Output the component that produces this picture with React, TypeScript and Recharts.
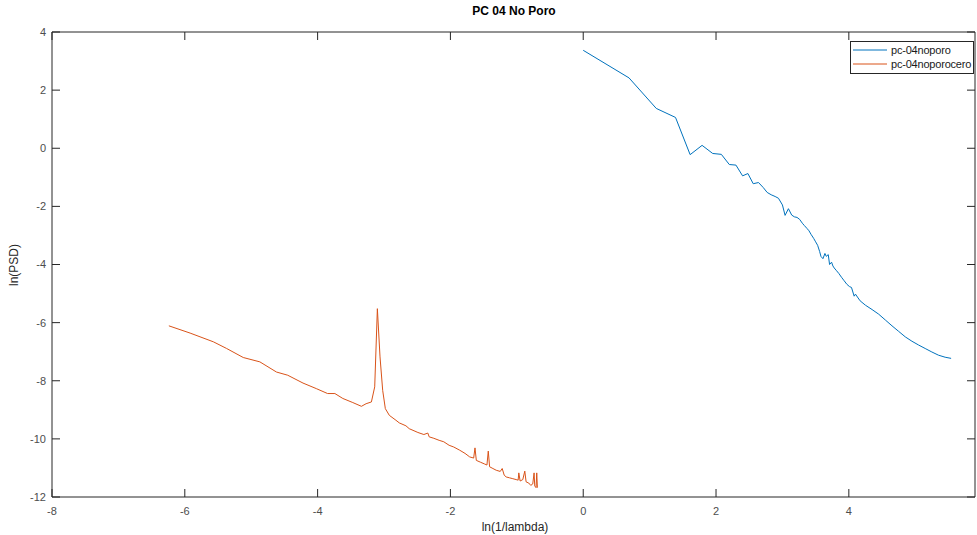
import { Legend, Line, LineChart, XAxis, YAxis } from "recharts";

// blue trace: pc-04noporo
const poroX = [
  0, 0.69, 1.1, 1.39, 1.61, 1.79, 1.95, 2.08, 2.2, 2.3, 2.4, 2.48, 2.56, 2.64,
  2.71, 2.77, 2.83, 2.89, 2.94, 3.0, 3.04, 3.09, 3.14, 3.18, 3.22, 3.26, 3.3,
  3.33, 3.37, 3.4, 3.43, 3.47, 3.5, 3.53, 3.56, 3.58, 3.61, 3.64, 3.66, 3.69,
  3.71, 3.74, 3.76, 3.78, 3.81, 3.85, 3.89, 3.93, 3.97, 4.01, 4.04, 4.08, 4.1,
  4.13, 4.17, 4.25, 4.35, 4.45, 4.55, 4.65, 4.75, 4.85, 4.95, 5.05, 5.15, 5.25,
  5.35, 5.45, 5.54,
];
const poroY = [
  3.37, 2.42, 1.37, 1.06, -0.22, 0.1, -0.18, -0.21, -0.56, -0.58, -0.95, -0.87,
  -1.22, -1.18, -1.35, -1.52, -1.6, -1.66, -1.72, -1.95, -2.31, -2.08, -2.3,
  -2.36, -2.38, -2.45, -2.58, -2.66, -2.76, -2.84, -2.96, -3.1, -3.22, -3.34,
  -3.55, -3.72, -3.8, -3.62, -3.72, -3.66, -4.0, -3.92, -4.05, -4.12, -4.2,
  -4.31, -4.44, -4.56, -4.68, -4.76, -4.79, -5.09, -5.02, -5.12, -5.25, -5.4,
  -5.55, -5.71, -5.91, -6.11, -6.3, -6.49, -6.64, -6.77, -6.89, -7.01, -7.12,
  -7.19, -7.23,
];

// orange trace: pc-04noporocero
const ceroX = [
  -6.24, -5.92, -5.57, -5.37, -5.12, -4.87, -4.62, -4.45, -4.22, -4.02, -3.85,
  -3.74, -3.62, -3.47, -3.34, -3.27, -3.19, -3.14, -3.1, -3.06, -3.02, -2.98,
  -2.92, -2.82, -2.77, -2.67, -2.62, -2.49, -2.4, -2.34, -2.32, -2.25, -2.17,
  -2.1, -2.02, -1.95, -1.86, -1.78, -1.71, -1.65, -1.63, -1.61, -1.55, -1.49,
  -1.45, -1.43, -1.41, -1.36, -1.31, -1.25, -1.22, -1.19, -1.16, -1.11, -1.06,
  -1.01, -0.98, -0.97, -0.95, -0.91, -0.88, -0.86, -0.82, -0.79, -0.76, -0.74,
  -0.73, -0.71, -0.7, -0.69,
];
const ceroY = [
  -6.11, -6.36, -6.66, -6.89, -7.2, -7.35, -7.7, -7.81, -8.08, -8.27, -8.44,
  -8.44, -8.61, -8.75, -8.88, -8.79, -8.73, -8.21, -5.52, -7.18, -8.33, -8.96,
  -9.19, -9.36, -9.45, -9.55, -9.65, -9.78, -9.85, -9.8, -9.93, -9.98, -10.05,
  -10.1, -10.22, -10.28, -10.39, -10.5, -10.62, -10.66, -10.31, -10.74, -10.8,
  -10.86, -10.9, -10.42, -10.96, -11.02, -11.08, -11.12, -11.02, -11.25,
  -11.31, -11.34, -11.37, -11.4, -11.42, -11.17, -11.45, -11.4, -11.11, -11.48,
  -11.52, -11.6, -11.55, -11.17, -11.62, -11.68, -11.17, -11.68,
];

const xTicks = [-8, -6, -4, -2, 0, 2, 4];
const yTicks = [-12, -10, -8, -6, -4, -2, 0, 2, 4];

const poroData = poroX.map((x, i) => ({ x, y: poroY[i] }));
const ceroData = ceroX.map((x, i) => ({ x, y: ceroY[i] }));

const FONT = "'Liberation Sans', Arial, sans-serif";
const AXIS = "#262626";
const BLUE = "#0072BD";
const ORANGE = "#D95319";

const tickStyle = { fill: "#4d4d4d", fontSize: 11, fontFamily: FONT };
const noLabel = () => "";

const LegendBox = () => (
  <div
    style={{
      border: `1px solid ${AXIS}`,
      background: "#fff",
      width: 122,
      height: 29,
      padding: "1px 0",
      fontFamily: FONT,
      fontSize: 11,
      color: "#1a1a1a",
      whiteSpace: "nowrap",
    }}
  >
    {[
      { name: "pc-04noporo", color: BLUE },
      { name: "pc-04noporocero", color: ORANGE },
    ].map((it) => (
      <div key={it.name} style={{ display: "flex", alignItems: "center", height: 14 }}>
        <svg width={40} height={14} style={{ flex: "none" }}>
          <line x1={2} x2={36} y1={7} y2={7} stroke={it.color} strokeWidth={1} />
        </svg>
        <span style={{ letterSpacing: -0.2 }}>{it.name}</span>
      </div>
    ))}
  </div>
);

const App = () => {
  return (
    <div style={{ position: "absolute", left: 0, top: 0, width: 977, height: 535, background: "#fff" }}>
      <LineChart width={977} height={535} margin={{ top: 31, right: 1, bottom: 0, left: 0 }}>
        <XAxis
          xAxisId="b"
          type="number"
          dataKey="x"
          domain={[-8, 5.9]}
          ticks={xTicks}
          allowDataOverflow
          height={38}
          stroke={AXIS}
          tickSize={-8}
          tickMargin={18}
          tick={tickStyle}
        />
        <XAxis
          xAxisId="t"
          orientation="top"
          type="number"
          dataKey="x"
          domain={[-8, 5.9]}
          ticks={xTicks}
          allowDataOverflow
          height={1}
          stroke={AXIS}
          tickSize={-8}
          tickFormatter={noLabel}
        />
        <YAxis
          yAxisId="l"
          type="number"
          domain={[-12, 4]}
          ticks={yTicks}
          allowDataOverflow
          width={52}
          stroke={AXIS}
          tickSize={-8}
          tickMargin={14}
          tick={tickStyle}
        />
        <YAxis
          yAxisId="r"
          orientation="right"
          type="number"
          dataKey="y"
          domain={[-12, 4]}
          ticks={yTicks}
          allowDataOverflow
          width={1}
          stroke={AXIS}
          tickSize={-8}
          tickFormatter={noLabel}
        />
        <Legend
          layout="vertical"
          align="center"
          verticalAlign="middle"
          wrapperStyle={{ left: 850, top: 41, width: 124 }}
          content={() => <LegendBox />}
        />
        <Line
          xAxisId="b"
          yAxisId="l"
          data={poroData}
          dataKey="y"
          type="linear"
          stroke={BLUE}
          strokeWidth={1}
          dot={false}
          isAnimationActive={false}
        />
        <Line
          xAxisId="b"
          yAxisId="l"
          data={ceroData}
          dataKey="y"
          type="linear"
          stroke={ORANGE}
          strokeWidth={1}
          dot={false}
          isAnimationActive={false}
        />
        {/* invisible copy so the top and right frame axes have a series bound to them */}
        <Line
          xAxisId="t"
          yAxisId="r"
          data={poroData}
          dataKey="y"
          stroke="none"
          dot={false}
          activeDot={false}
          legendType="none"
          isAnimationActive={false}
        />
      </LineChart>
      <div
        style={{
          position: "absolute",
          left: 514,
          top: 11,
          transform: "translate(-50%, -50%)",
          fontFamily: FONT,
          fontWeight: "bold",
          fontSize: 12,
          color: "#000",
          whiteSpace: "nowrap",
        }}
      >
        PC 04 No Poro
      </div>
      <div
        style={{
          position: "absolute",
          left: 515,
          top: 527,
          transform: "translate(-50%, -50%)",
          fontFamily: FONT,
          fontSize: 12,
          color: "#262626",
          whiteSpace: "nowrap",
        }}
      >
        ln(1/lambda)
      </div>
      <div
        style={{
          position: "absolute",
          left: 14,
          top: 265,
          transform: "translate(-50%, -50%) rotate(-90deg)",
          fontFamily: FONT,
          fontSize: 12,
          color: "#262626",
          whiteSpace: "nowrap",
        }}
      >
        ln(PSD)
      </div>
    </div>
  );
};

export default App;
